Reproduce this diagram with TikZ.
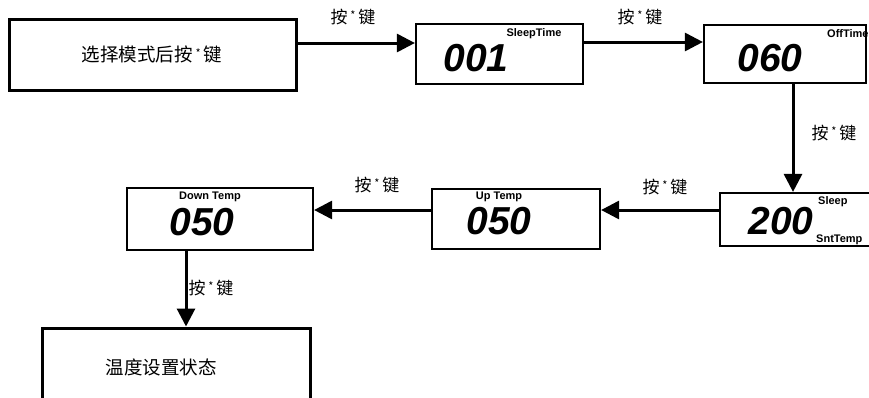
\documentclass[tikz,border=0pt]{standalone}
\usepackage{fontspec}
\setmainfont{Liberation Sans}
\newfontfamily\cjk{Noto Sans CJK SC}
\newfontfamily\lcd{Liberation Sans}
\usetikzlibrary{arrows.meta}
\begin{document}
\begin{tikzpicture}[x=1pt,y=-1pt,
  bigbox/.style={draw,line width=3pt,minimum width=#1,inner sep=0pt},
  lcdbox/.style={draw,line width=2.2pt,inner sep=0pt},
  arr/.style={line width=3pt,-{Triangle[length=18pt,width=18pt]}},
  keylbl/.style={font=\cjk\fontsize{17}{17}\selectfont,inner sep=0pt},
  boxtxt/.style={font=\cjk\fontsize{18.5}{19}\selectfont,inner sep=0pt},
  digits/.style={font=\lcd\bfseries\itshape\fontsize{39}{39}\selectfont,inner sep=0pt},
  tag/.style={font=\lcd\bfseries\fontsize{11}{11}\selectfont,inner sep=0pt}]
\useasboundingbox (0,0) rectangle (869,397);
\clip (0,0) rectangle (869,397);
% boxes
\node[bigbox=287pt,minimum height=71pt] (b1) at (152.5,54.5) {};
\node[lcdbox,minimum width=167pt,minimum height=60pt] (b2) at (499.5,54) {};
\node[lcdbox,minimum width=162pt,minimum height=58pt] (b3) at (785,54) {};
\node[lcdbox,minimum width=160pt,minimum height=53pt] (b4) at (800,219.5) {};
\node[lcdbox,minimum width=168pt,minimum height=60pt] (b5) at (516,219) {};
\node[lcdbox,minimum width=186pt,minimum height=62pt] (b6) at (220,219) {};
\node[bigbox=268pt,minimum height=80pt] (b7) at (176,368) {};
% box texts
\node[boxtxt] (t1) at (152,54) {选择模式后按\,{\fontsize{11}{11}\selectfont\raisebox{4pt}{*}}\,键};
\node[boxtxt] (t7) at (161,367) {温度设置状态};
\node[digits] (d2) at (476,58) {001};
\node[tag] (g2) at (534,34) {SleepTime};
\node[digits] (d3) at (770,58) {060};
\node[tag,anchor=west] (g3) at (827,34) {OffTime};
\node[digits] (d4) at (781,221) {200};
\node[tag,anchor=west] (g4a) at (818,202) {Sleep};
\node[tag,anchor=west] (g4b) at (816,240) {SntTemp};
\node[digits] (d5) at (499,221) {050};
\node[tag] (g5) at (499,197) {Up Temp};
\node[digits] (d6) at (202,222) {050};
\node[tag] (g6) at (210,197) {Down Temp};
% arrows
\draw[arr] ([yshift=11.5pt]b1.east) -- ([yshift=11pt]b2.west);
\draw[arr] ([yshift=12pt]b2.east) -- ([yshift=12pt]b3.west);
\draw[arr] ([xshift=8pt]b3.south) -- ([xshift=-7pt]b4.north);
\draw[arr] ([yshift=9.5pt]b4.west) -- ([yshift=9pt]b5.east);
\draw[arr] ([yshift=9pt]b5.west) -- ([yshift=9pt]b6.east);
\draw[arr] ([xshift=-34pt]b6.south) -- ([xshift=10pt]b7.north);
% labels
\newcommand\keytext{按\,{\fontsize{11}{11}\selectfont\raisebox{4pt}{*}}\,键}
\node[keylbl] (k1) at (353,17) {\keytext};
\node[keylbl] (k2) at (640,17) {\keytext};
\node[keylbl] (k3) at (834,133) {\keytext};
\node[keylbl] (k4) at (665,187) {\keytext};
\node[keylbl] (k5) at (377,185) {\keytext};
\node[keylbl] (k6) at (211,288) {\keytext};
\end{tikzpicture}
\end{document}
